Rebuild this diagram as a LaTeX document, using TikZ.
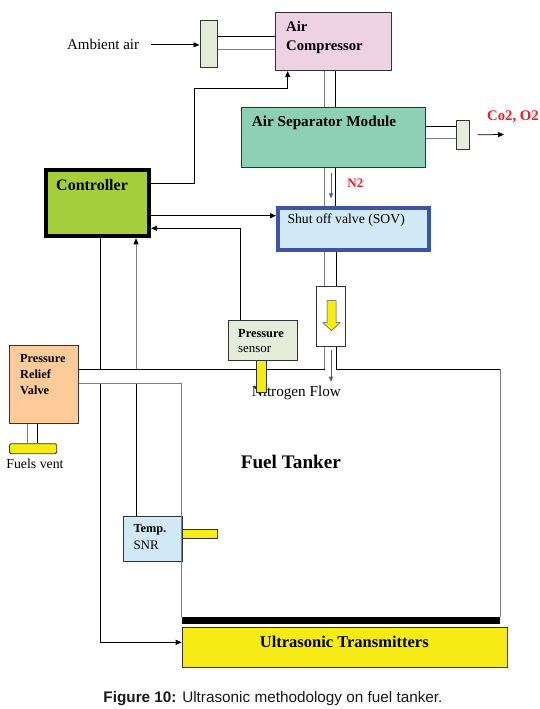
\documentclass[tikz,border=0pt]{standalone}
\usepackage{fontspec}
\setmainfont{Liberation Serif}
\setsansfont{Liberation Sans}
\usetikzlibrary{arrows.meta}
\definecolor{inletc}{HTML}{E3EDD9}
\definecolor{compc}{HTML}{EFD1E4}
\definecolor{asmc}{HTML}{8ED0B5}
\definecolor{sovc}{HTML}{D1E9F7}
\definecolor{sovline}{HTML}{3A55A6}
\definecolor{ctrlc}{HTML}{A6CE3A}
\definecolor{prvc}{HTML}{FCCB99}
\definecolor{yel}{HTML}{F6EC13}
\definecolor{redt}{HTML}{EE1C25}
\definecolor{bluea}{HTML}{3C5DB0}
\definecolor{pipegray}{HTML}{808080}

\begin{document}
\begin{tikzpicture}[x=1pt, y=-1pt, >={Triangle[length=6pt,width=5pt]},
  box/.style={draw=black!80, line width=0.8pt, anchor=north west, inner sep=0},
  lbl/.style 2 args={anchor=base west, inner sep=0, align=left, font=\fontsize{#1}{#2}\selectfont},
  blbl/.style 2 args={anchor=base west, inner sep=0, align=left, font=\fontsize{#1}{#2}\selectfont\bfseries},
  link/.style={line width=0.75pt},
  pipeb/.style={line width=0.75pt},
  pipeg/.style={line width=0.75pt, draw=pipegray},
  flow/.style={draw=bluea, line width=0.9pt, -{Triangle[length=5pt,width=4pt]}}]
  \useasboundingbox[fill=white] (0,0) rectangle (540,709);
  % ------------------------------------------------------------------ intake and compressor
  \node[lbl={15}{18}] (ambient) at (66.8,50) {Ambient air};
  \node[box, fill=inletc, minimum width=17.2, minimum height=47] (inlet) at (199.5,20) {};
  \node[box, fill=compc, minimum width=116.2, minimum height=58.6] (comp) at (274.5,11.7) {};
  \node[blbl={14.7}{19.5}] (comptxt) at (286,50.8) {Air\\Compressor};
  \draw[->, link, shorten <=12pt] (ambient.east) -- (ambient.east -| inlet.west);
  \draw[pipeb] (inlet.east |- 0,36.7) -- (comp.west |- 0,36.7);
  \draw[pipeg] (inlet.east |- 0,49.3) -- (comp.west |- 0,49.3);
  % ------------------------------------------------------------------ separator and outlet
  \node[box, fill=asmc, minimum width=184.5, minimum height=60.6] (asm) at (240.5,106.7) {};
  \node[blbl={15.2}{18}] (asmtxt) at (251.6,126) {Air Separator Module};
  \draw[pipeg] (324.5,0 |- comp.south) -- (324.5,0 |- asm.north);
  \draw[pipeb] (335.5,0 |- comp.south) -- (335.5,0 |- asm.north);
  \node[box, fill=inletc, minimum width=12.7, minimum height=29] (outlet) at (456,120) {};
  \draw[pipeb] (asm.east |- 0,126) -- (outlet.west |- 0,126);
  \draw[pipeg] (asm.east |- 0,138) -- (outlet.west |- 0,138);
  \coordinate (vent) at (504,134.5);
  \draw[->, link, shorten <=8pt] (outlet.east) -- (vent);
  \node[blbl={14.7}{18}, text=redt] (gastxt) at (487,120) {Co2, O2};
  % ------------------------------------------------------------------ shut off valve and flow meter
  \node[box, draw=sovline, line width=4pt, fill=sovc, minimum width=150.5, minimum height=42] (sov) at (276,206) {};
  \node[lbl={13.7}{16}] (sovtxt) at (287.3,223.3) {Shut off valve (SOV)};
  \draw[pipeg] (324.5,0 |- asm.south) -- (324.5,0 |- sov.north);
  \draw[pipeb] (335.5,0 |- asm.south) -- (335.5,0 |- sov.north);
  \draw[flow] (331,173.3) -- (331,198.3);
  \node[blbl={13}{16}, text=redt] (n2txt) at (347.2,187.3) {N2};
  \node[box, fill=white, minimum width=29, minimum height=60] (meter) at (315.5,286) {};
  \draw[pipeg] (324.5,0 |- sov.south) -- (324.5,0 |- meter.north);
  \draw[pipeb] (336,0 |- sov.south) -- (336,0 |- meter.north);
  \filldraw[fill=yel, draw=black!70, line width=0.5pt] (327,300.7) -- (336,300.7) -- (336,322.7)
    -- (340,322.7) -- (331.5,330.7) -- (323,322.7) -- (327,322.7) -- cycle;
  % ------------------------------------------------------------------ controller
  \node[box, draw=black, line width=4.5pt, fill=ctrlc, minimum width=102.8, minimum height=65.8] (ctrl) at (43.75,167.95) {};
  \node[blbl={16}{19}] (ctrltxt) at (56,190) {Controller};
  % ------------------------------------------------------------------ sensors, relief valve, transmitters
  \node[box, fill=inletc, minimum width=69, minimum height=39.5] (ps) at (227.5,320) {};
  \node[blbl={12.4}{15}] (pstxt) at (238,337.3) {Pressure};
  \node[lbl={12.9}{15}] (pstxtb) at (238,352.3) {sensor};
  \node[box, fill=prvc, minimum width=68.6, minimum height=78] (prv) at (9.3,345.3) {};
  \node[blbl={12.3}{16.2}] (prvtxt) at (20,394.4) {Pressure\\Relief\\Valve};
  \node[box, fill=sovc, minimum width=58.8, minimum height=45] (temp) at (122.9,516) {};
  \node[blbl={12.3}{16}] (temptxt) at (133.3,532.7) {Temp.};
  \node[lbl={13}{16}] (temptxtb) at (133.3,549) {SNR};
  \node[box, fill=yel, minimum width=325.3, minimum height=40] (ultra) at (181.7,627.3) {};
  \node[blbl={16.5}{19}, anchor=base] (ultratxt) at (344.3,647.7) {Ultrasonic Transmitters};
  % ------------------------------------------------------------------ control links
  \draw[->, link] (ctrl.east |- 0,183.3) -| (194,88.3) -| (287.7,0 |- comp.south);
  \draw[->, link] (ctrl.east |- 0,215.7) -- (sov.west |- 0,215.7);
  \draw[->, link] (240.6,0 |- ps.north) |- (ctrl.east |- 0,228.3);
  \draw[->, link] (100.4,0 |- ctrl.south) |- (ultra.west |- 0,642.3);
  \draw[->, link] (136,0 |- temp.north) -- (136,0 |- ctrl.south);
  \draw[pipeg] (136,244) -- (136,369);
  % ------------------------------------------------------------------ tank
  \fill[white] (prv.east |- 0,369) rectangle (181.7,383.3);
  \draw[pipeb] (prv.east |- 0,369) -- (324.5,369);
  \draw[pipeg] (324.5,0 |- meter.south) -- (324.5,369);
  \draw[pipeb] (336,0 |- meter.south) -- (336,369) -- (500.2,369);
  \draw[pipeg] (500.2,369) -- (500.2,616.7);
  \draw[pipeg] (prv.east |- 0,383.3) -| (181.7,616.7);
  \fill (181.7,616.7) rectangle (500.2,624);
  \draw[flow] (331,350) -- (331,381.7);
  \node[lbl={15.2}{18}] (flowtxt) at (251.6,396) {Nitrogen Flow};
  \node[blbl={19.2}{22}] (tanktxt) at (240.6,468.3) {Fuel Tanker};
  \node[box, fill=yel, minimum width=9.5, minimum height=32] (psprobe) at (256,359.5) {};
  \node[box, fill=yel, minimum width=35.7, minimum height=9] (tprobe) at (181.7,529.3) {};
  % ------------------------------------------------------------------ fuel vent
  \node[box, fill=yel, rounded corners=1.5pt, minimum width=47.4, minimum height=10] (fvent) at (9,443.3) {};
  \draw[pipeg] (27.7,0 |- prv.south) -- (27.7,0 |- fvent.north);
  \draw[pipeb] (37.4,0 |- prv.south) -- (37.4,0 |- fvent.north);
  \node[lbl={13.8}{16}] (fventtxt) at (6.2,468.3) {Fuels vent};
  % ------------------------------------------------------------------ caption
  \node[anchor=base, inner sep=0, font=\sffamily\fontsize{15.3}{18}\selectfont, text=black!90] (caption) at (273,702.7)
    {\textbf{Figure 10:} Ultrasonic methodology on fuel tanker.};
\end{tikzpicture}
\end{document}
